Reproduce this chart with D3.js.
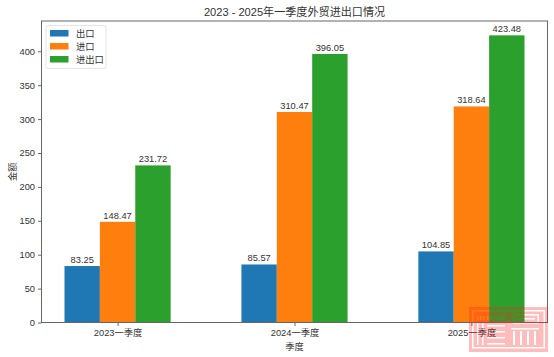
<!DOCTYPE html>
<html>
<head>
<meta charset="utf-8">
<script src="https://cdn.jsdelivr.net/npm/d3@7"></script>
<style>
    body { margin: 0; background: #fff; }
    svg { display: block; }
    text { font-family: "Liberation Sans", "Noto Sans CJK SC", sans-serif; fill: #333; }
</style>
</head>
<body>
<svg id="drawing_region"></svg>
<script>
const quarters = ['2023一季度', '2024一季度', '2025一季度'];
const seriesNames = ['出口', '进口', '进出口'];
const exportValues = [83.25, 85.57, 104.85];
const importValues = [148.47, 310.47, 318.64];
const totalValues = [231.72, 396.05, 423.48];
const seriesValues = [exportValues, importValues, totalValues];
const seriesColors = ['#1f77b4', '#ff7f0e', '#2ca02c'];
const yTicks = [0, 50, 100, 150, 200, 250, 300, 350, 400];
const titleText = '2023 - 2025年一季度外贸进出口情况';

const width = 554, height = 357;
const margin = {top: 21, right: 6.5, bottom: 34.5, left: 41.5};
const inner_width = width - margin.left - margin.right;
const inner_height = height - margin.top - margin.bottom;
const axisColor = '#666';
const labelSize = 9.3;

const svg = d3.select('#drawing_region')
    .attr('width', width)
    .attr('height', height);

const chart = svg.append('g')
    .attr('transform', `translate(${margin.left}, ${margin.top})`);

// bars sit at index + offset, same as a grouped bar with width 0.2
const barWidth = 0.2;
const xscale = d3.scaleLinear().domain([-0.43, 2.43]).range([0, inner_width]);
const yscale = d3.scaleLinear().domain([0, 444.65]).range([inner_height, 0]);

seriesValues.forEach((values, s) => {
    const offset = (s - 1) * barWidth;
    chart.selectAll(`rect.s${s}`)
        .data(values)
        .enter()
        .append('rect')
        .attr('class', `s${s}`)
        .attr('x', (d, i) => xscale(i + offset - barWidth / 2))
        .attr('y', d => yscale(d))
        .attr('width', xscale(barWidth) - xscale(0))
        .attr('height', d => inner_height - yscale(d))
        .attr('fill', seriesColors[s]);

    chart.selectAll(`text.s${s}`)
        .data(values)
        .enter()
        .append('text')
        .attr('class', `s${s}`)
        .attr('x', (d, i) => xscale(i + offset))
        .attr('y', d => yscale(d) - 3)
        .attr('text-anchor', 'middle')
        .attr('font-size', labelSize)
        .text(d => d.toFixed(2));
});

// axes
const xaxis = d3.axisBottom(xscale)
    .tickValues(d3.range(quarters.length))
    .tickFormat(i => quarters[i])
    .tickSize(3.5)
    .tickPadding(3)
    .tickSizeOuter(0);
const yaxis = d3.axisLeft(yscale)
    .tickValues(yTicks)
    .tickSize(3.5)
    .tickPadding(3)
    .tickSizeOuter(0);

const xaxis_group = chart.append('g')
    .attr('transform', `translate(0, ${inner_height})`)
    .call(xaxis);
const yaxis_group = chart.append('g').call(yaxis);

[xaxis_group, yaxis_group].forEach(g => {
    g.attr('font-family', null).attr('font-size', labelSize);
    g.selectAll('line').attr('stroke', axisColor);
    g.select('.domain').remove();
});

// spines
chart.append('rect')
    .attr('width', inner_width)
    .attr('height', inner_height)
    .attr('fill', 'none')
    .attr('stroke', axisColor)
    .attr('stroke-width', 1);

// titles
svg.append('text')
    .attr('x', margin.left + inner_width / 2)
    .attr('y', 16)
    .attr('text-anchor', 'middle')
    .attr('font-size', 11.1)
    .text(titleText);
svg.append('text')
    .attr('x', margin.left + inner_width / 2)
    .attr('y', 350)
    .attr('text-anchor', 'middle')
    .attr('font-size', labelSize)
    .text('季度');
svg.append('text')
    .attr('transform', `translate(16, ${margin.top + inner_height / 2}) rotate(-90)`)
    .attr('text-anchor', 'middle')
    .attr('font-size', labelSize)
    .text('金额');

// legend
const legend = chart.append('g').attr('transform', 'translate(4.5, 4.5)');
legend.append('rect')
    .attr('width', 60)
    .attr('height', 43)
    .attr('rx', 2)
    .attr('fill', '#fff')
    .attr('stroke', '#ddd')
    .attr('stroke-width', 0.8);
const legend_items = legend.selectAll('g')
    .data(seriesNames)
    .enter()
    .append('g')
    .attr('transform', (d, i) => `translate(4, ${4.5 + i * 13})`);
legend_items.append('rect')
    .attr('width', 18.5)
    .attr('height', 6.5)
    .attr('fill', (d, i) => seriesColors[i]);
legend_items.append('text')
    .attr('x', 26)
    .attr('y', 7)
    .attr('font-size', labelSize)
    .text(d => d);

// watermark stamp, bottom right: pink block with holes cut out of it
const stamp_holes = [
    // inner frame
    [3, 3, 73, 1.5], [3, 40, 73, 1.5], [3, 3, 1.5, 38], [74.5, 3, 1.5, 38],
    // www row
    [8, 9, 1.5, 4], [11, 9, 1.5, 4], [14, 9, 1.5, 4], [18, 9, 1.5, 4], [21, 9, 1.5, 4],
    [24, 9, 1.5, 4], [28, 9, 1.5, 4], [31, 9, 1.5, 4], [34, 9, 1.5, 4],
    // top right glyph
    [44, 7, 26, 1.5], [44, 15, 26, 1.5], [44, 7, 1.5, 9], [68.5, 7, 1.5, 9], [48, 11, 18, 1.5],
    // lower left glyph
    [8, 16, 1.5, 22], [13, 16, 1.5, 22], [18, 18, 18, 1.5], [18, 24, 18, 1.5],
    [18, 30, 18, 1.5], [18, 36, 18, 1.5],
    // lower right glyph
    [42, 21, 28, 1.5], [44, 24, 2, 14], [51, 24, 2, 14], [58, 24, 2, 14], [65, 24, 2, 14]
];
const stamp = svg.append('g').attr('transform', 'translate(469, 307)');
const stamp_mask = stamp.append('mask').attr('id', 'stamp_mask');
stamp_mask.append('rect')
    .attr('width', 79)
    .attr('height', 45)
    .attr('fill', '#fff');
stamp_mask.selectAll('rect.hole')
    .data(stamp_holes)
    .enter()
    .append('rect')
    .attr('class', 'hole')
    .attr('x', d => d[0])
    .attr('y', d => d[1])
    .attr('width', d => d[2])
    .attr('height', d => d[3])
    .attr('fill', '#000');
stamp.append('rect')
    .attr('width', 79)
    .attr('height', 45)
    .attr('fill', '#ff2020')
    .attr('fill-opacity', 0.3)
    .attr('mask', 'url(#stamp_mask)');
</script>
</body>
</html>
